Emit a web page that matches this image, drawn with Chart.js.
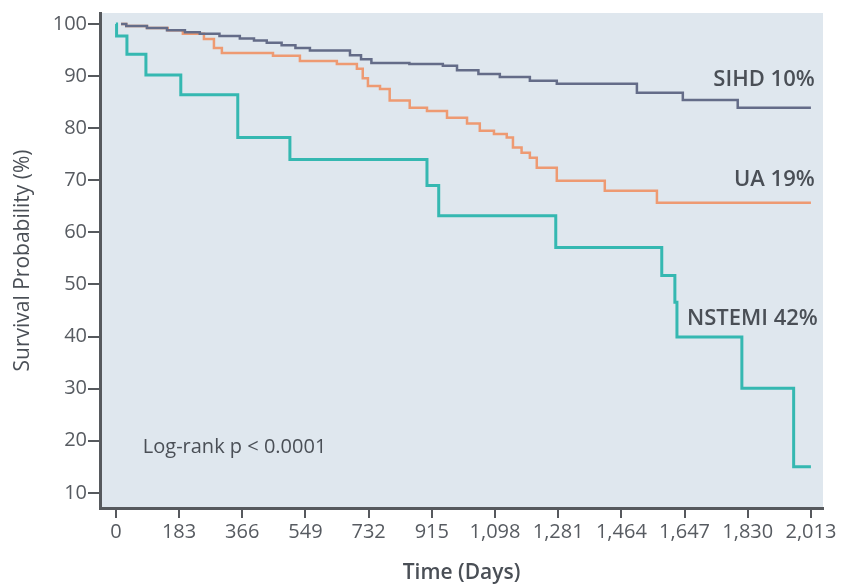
<!DOCTYPE html>
<html>
<head>
<meta charset="utf-8">
<script src="https://cdn.jsdelivr.net/npm/chart.js@4.4.1/dist/chart.umd.min.js"></script>
<style>
    body { margin: 0; background: #fff; }
    #wrap { width: 842px; height: 586px; position: relative; }
</style>
</head>
<body>
<div id="wrap"><canvas id="km" width="842" height="586"></canvas></div>
<script>
// Kaplan-Meier curves, values (day, survival %)
const sihdDays = [15, 30, 90, 148, 200, 243, 300, 359, 400, 437, 480, 520, 562, 678, 710, 740, 850, 947, 988, 1050, 1112, 1199, 1277, 1509, 1642, 1801, 2013];
const sihdSurv = [100, 99.6, 99.2, 98.8, 98.4, 98.1, 97.7, 97.2, 96.8, 96.4, 95.9, 95.4, 94.9, 94.0, 93.2, 92.5, 92.3, 92.0, 91.1, 90.4, 89.8, 89.1, 88.5, 86.8, 85.4, 83.9, 83.9];

const uaDays = [15, 30, 90, 150, 194, 255, 284, 307, 455, 533, 640, 698, 715, 730, 765, 793, 851, 901, 959, 1017, 1054, 1095, 1132, 1150, 1175, 1199, 1219, 1277, 1416, 1567, 2013];
const uaSurv = [100, 99.6, 99.2, 98.8, 98.1, 97.1, 95.4, 94.4, 93.9, 92.9, 92.3, 91.4, 89.6, 88.1, 87.5, 85.3, 83.9, 83.3, 82.0, 80.9, 79.5, 78.9, 78.2, 76.3, 75.3, 74.3, 72.4, 69.9, 68.0, 65.7, 65.7];

const nstemiDays = [0, 2, 32, 87, 188, 353, 504, 901, 935, 1274, 1581, 1619, 1625, 1813, 1963, 2013];
const nstemiSurv = [100, 97.7, 94.2, 90.2, 86.4, 78.2, 74.0, 69.0, 63.2, 57.1, 51.7, 46.6, 39.9, 30.1, 15.0, 15.0];

const xTicks = [0, 183, 366, 549, 732, 915, 1098, 1281, 1464, 1647, 1830, 2013];
const yTicks = [10, 20, 30, 40, 50, 60, 70, 80, 90, 100];

const seriesNames = ['SIHD', 'UA', 'NSTEMI'];
const endLabels = ['SIHD 10%', 'UA 19%', 'NSTEMI 42%'];

function toPoints(days, surv) {
    return days.map(function(d, i) { return { x: d, y: surv[i] }; });
}

const textColor = '#4a4f56';
const tickColor = '#575b61';
const axisColor = '#56595d';
const fontFamily = "'Open Sans', 'Noto Sans', sans-serif";

// light blue panel behind the plot
const panelBg = {
    id: 'panelBg',
    beforeDraw: function(chart) {
        const a = chart.chartArea;
        const ctx = chart.ctx;
        ctx.save();
        ctx.fillStyle = '#dfe7ee';
        ctx.fillRect(a.left, a.top, a.right - a.left, a.bottom - a.top);
        ctx.restore();
    }
};

// curve labels and the log-rank note
const annotations = {
    id: 'annotations',
    afterDatasetsDraw: function(chart) {
        const ctx = chart.ctx;
        const xs = chart.scales.x;
        const ys = chart.scales.y;
        ctx.save();
        ctx.fillStyle = textColor;
        ctx.textBaseline = 'middle';
        ctx.textAlign = 'right';
        ctx.font = "600 22px " + fontFamily;
        ctx.fillText(endLabels[0], xs.getPixelForValue(2024), ys.getPixelForValue(89.3));
        ctx.fillText(endLabels[1], xs.getPixelForValue(2024), ys.getPixelForValue(70.1));
        ctx.fillText(endLabels[2], xs.getPixelForValue(2033), ys.getPixelForValue(43.5));
        ctx.textAlign = 'left';
        ctx.font = "20px " + fontFamily;
        ctx.fillText('Log-rank p < 0.0001', xs.getPixelForValue(78), ys.getPixelForValue(18.8));
        ctx.restore();
    }
};

const ctx = document.getElementById('km').getContext('2d');
new Chart(ctx, {
    type: 'line',
    data: {
        datasets: [
            { label: seriesNames[0], data: toPoints(sihdDays, sihdSurv), borderColor: '#646c88', borderWidth: 2.5 },
            { label: seriesNames[1], data: toPoints(uaDays, uaSurv), borderColor: '#ee9a72', borderWidth: 2.5 },
            { label: seriesNames[2], data: toPoints(nstemiDays, nstemiSurv), borderColor: '#35b8b1', borderWidth: 3 }
        ]
    },
    options: {
        responsive: false,
        animation: false,
        layout: { padding: { top: 12, right: 19, left: 10, bottom: 0 } },
        elements: {
            line: { stepped: 'before', fill: false },
            point: { radius: 0 }
        },
        plugins: {
            legend: { display: false },
            tooltip: { enabled: false }
        },
        scales: {
            x: {
                type: 'linear',
                min: -46,
                max: 2048,
                afterBuildTicks: function(scale) {
                    scale.ticks = xTicks.map(function(v) { return { value: v }; });
                },
                afterFit: function(scale) { scale.height = 78; },
                border: { display: true, color: axisColor, width: 3 },
                grid: { drawOnChartArea: false, drawTicks: true, tickLength: 10, color: axisColor, lineWidth: 2 },
                ticks: {
                    color: tickColor,
                    padding: 2,
                    maxRotation: 0,
                    autoSkip: false,
                    font: { family: fontFamily, size: 20 },
                    callback: function(v) { return v.toLocaleString('en-US'); }
                },
                title: {
                    display: true,
                    text: 'Time (Days)',
                    color: textColor,
                    padding: { top: 10, bottom: 0 },
                    font: { family: fontFamily, size: 21, weight: '600' }
                }
            },
            y: {
                min: 7.1,
                max: 102.1,
                afterBuildTicks: function(scale) {
                    scale.ticks = yTicks.map(function(v) { return { value: v }; });
                },
                afterFit: function(scale) { scale.width = 90; },
                border: { display: true, color: axisColor, width: 3 },
                grid: { drawOnChartArea: false, drawTicks: true, tickLength: 12, color: axisColor, lineWidth: 2 },
                ticks: {
                    color: tickColor,
                    padding: 1,
                    font: { family: fontFamily, size: 20 }
                },
                title: {
                    display: true,
                    text: 'Survival Probability (%)',
                    color: textColor,
                    padding: { top: 0, bottom: 4 },
                    font: { family: fontFamily, size: 21 }
                }
            }
        }
    },
    plugins: [panelBg, annotations]
});
</script>
</body>
</html>
